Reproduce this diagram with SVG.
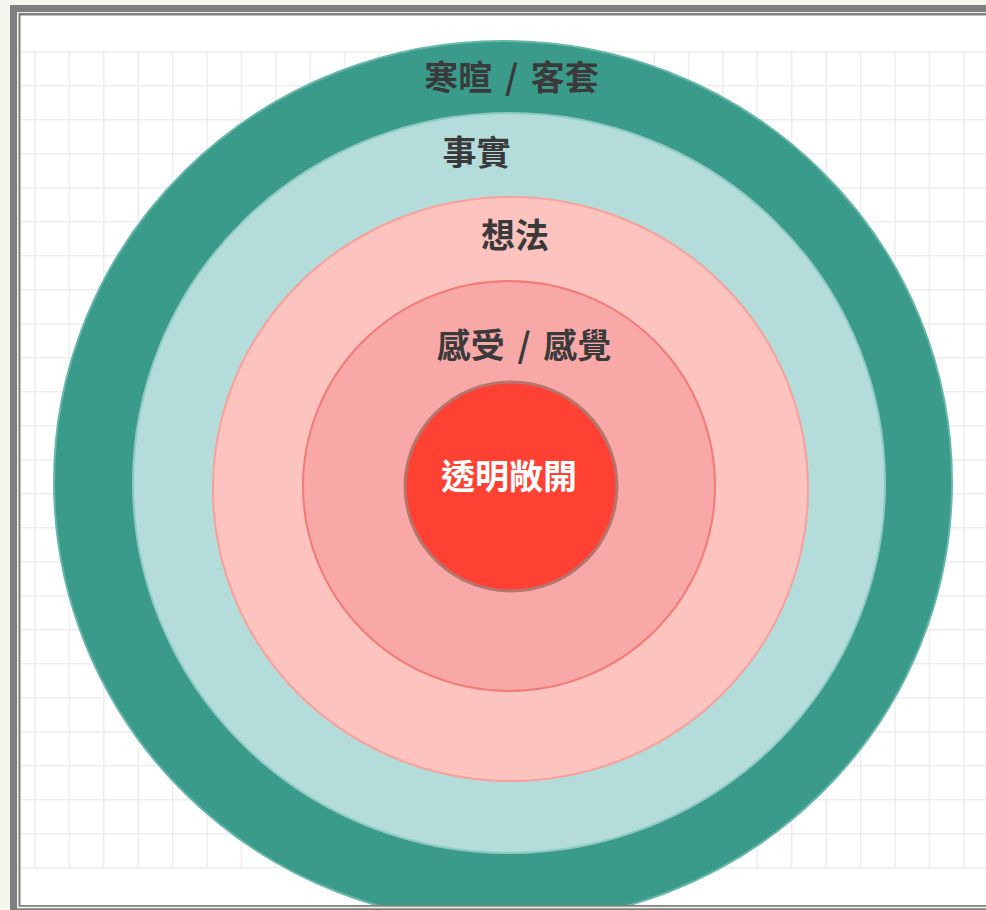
<svg xmlns="http://www.w3.org/2000/svg" width="986" height="910" viewBox="0 0 986 910">
<style>
.lbl{font-family:"Noto Sans CJK TC","Noto Sans CJK SC",sans-serif;font-weight:bold;font-size:34px;text-anchor:middle;fill:#3a3a3a;word-spacing:5px}
.lblw{fill:#ffffff}
.grid{stroke:#ededed;stroke-width:1.5;fill:none}
</style>
<defs>
<clipPath id="inner"><rect x="20.5" y="15.5" width="980" height="889.5"/></clipPath>
</defs>
<rect x="0" y="0" width="986" height="910" fill="#f7f6ee"/>
<rect x="10" y="5" width="990" height="910" fill="#7f7f7f"/>
<rect x="17" y="12" width="980" height="896.3" fill="#f2f1e8"/>
<rect x="18.5" y="13" width="980" height="893.7" fill="#7f7f7f"/>
<rect x="20.5" y="15.5" width="980" height="889.5" fill="#ffffff"/>
<path class="grid" d="M21 51.7H986M21 85.7H986M21 119.7H986M21 153.7H986M21 187.7H986M21 221.7H986M21 255.7H986M21 289.7H986M21 323.7H986M21 357.7H986M21 391.7H986M21 425.7H986M21 459.7H986M21 493.7H986M21 527.7H986M21 561.7H986M21 595.7H986M21 629.7H986M21 663.7H986M21 697.7H986M21 731.7H986M21 765.7H986M21 799.7H986M21 833.7H986M21 867.7H986
M35 51.7V867.7M69.4 51.7V867.7M103.8 51.7V867.7M138.2 51.7V867.7M172.6 51.7V867.7M207 51.7V867.7M241.4 51.7V867.7M275.8 51.7V867.7M310.2 51.7V867.7M344.6 51.7V867.7M379 51.7V867.7M413.4 51.7V867.7M447.8 51.7V867.7M482.2 51.7V867.7M516.6 51.7V867.7M551 51.7V867.7M585.4 51.7V867.7M619.8 51.7V867.7M654.2 51.7V867.7M688.6 51.7V867.7M723 51.7V867.7M757.4 51.7V867.7M791.8 51.7V867.7M826.2 51.7V867.7M860.6 51.7V867.7M895 51.7V867.7M929.4 51.7V867.7M963.8 51.7V867.7"/>
<g clip-path="url(#inner)">
<g id="layer-greeting">
<ellipse cx="503" cy="482" rx="449" ry="441" fill="#3a9b8a" stroke="#66b7aa" stroke-width="2"/>
<text class="lbl" x="511.5" y="90">寒暄 / 客套</text>
</g>
<g id="layer-facts">
<ellipse cx="509" cy="483" rx="376" ry="370" fill="#b4dcdb" stroke="#8ecac4" stroke-width="2"/>
<text class="lbl" x="476.5" y="165">事實</text>
</g>
<g id="layer-thoughts">
<ellipse cx="510.5" cy="489" rx="297.5" ry="292" fill="#fdc3be" stroke="#f8a099" stroke-width="2"/>
<text class="lbl" x="515" y="248">想法</text>
</g>
<g id="layer-feelings">
<ellipse cx="509" cy="486" rx="206" ry="205" fill="#f9a8a8" stroke="#f27a78" stroke-width="2"/>
<text class="lbl" x="524" y="358">感受 / 感覺</text>
</g>
<g id="layer-open">
<ellipse cx="511" cy="486.5" rx="106" ry="104.5" fill="#ff4133" stroke="#b5766f" stroke-width="3"/>
<text class="lbl lblw" x="509" y="489">透明敞開</text>
</g>
</g>
</svg>
